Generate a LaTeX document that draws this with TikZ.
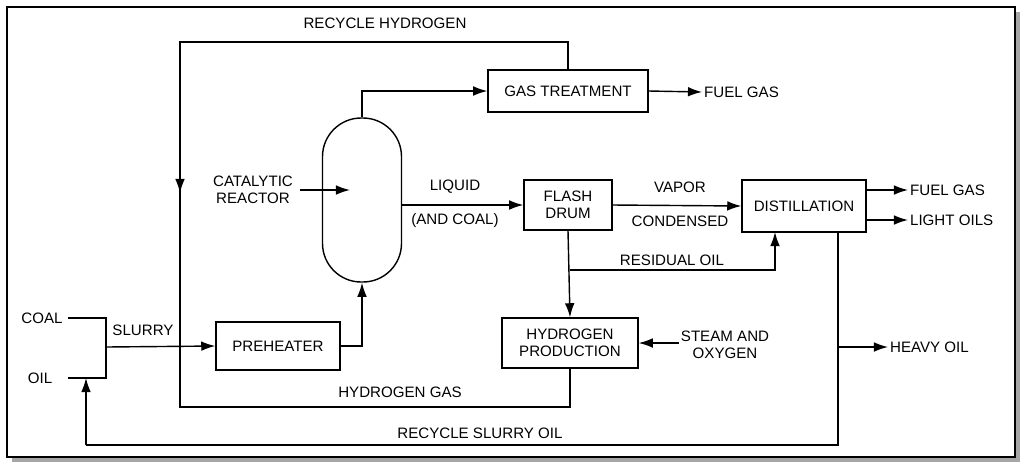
\documentclass[tikz,border=0pt]{standalone}
\usepackage{fontspec}
\setmainfont{Liberation Sans}
\usetikzlibrary{arrows.meta}
\begin{document}
\begin{tikzpicture}[x=0.02cm,y=-0.02cm,
        font=\fontsize{8.6}{10}\selectfont,
        unit/.style={draw,thick,inner sep=0pt,minimum width=#1*0.02cm},
        unit/.default=120,
        flow/.style={thick,-{Latex[length=8pt,width=5.5pt]}},
        pipe/.style={thick},
        txt/.style={inner sep=1pt,align=center}
    ]
    \useasboundingbox (0,0) rectangle (1024,468);
    \fill[gray!70] (12,12) rectangle (1020,462);
    \draw[very thick,fill=white] (7,7) rectangle (1015,457);
    % units
    \node[draw,thick,rounded corners=22pt,minimum width=79*0.02cm,minimum height=164*0.02cm] (reactor) at (362,200) {};
    \node[unit=160,minimum height=42*0.02cm] (gas) at (568,91) {GAS TREATMENT};
    \node[unit=88,minimum height=50*0.02cm,txt] (flash) at (568,205) {FLASH\\DRUM};
    \node[unit=124,minimum height=52*0.02cm] (dist) at (804,206) {DISTILLATION};
    \node[unit=124,minimum height=48*0.02cm] (pre) at (278,346) {PREHEATER};
    \node[unit=136,minimum height=50*0.02cm,txt] (hyd) at (570,343) {HYDROGEN\\PRODUCTION};
    % labels
    \node[txt] (lcoal) at (42,318) {COAL};
    \node[txt] (loil) at (40,378) {OIL};
    \node[txt] (lslurry) at (143,330) {SLURRY};
    \node[txt] (lcat) at (253,190) {CATALYTIC\\REACTOR};
    \node[txt] (lrh) at (385,23) {RECYCLE HYDROGEN};
    \node[txt,anchor=west] (lfg1) at (702,92) {FUEL GAS};
    \node[txt] (lliq) at (455,187) {LIQUID};
    \node[txt] (lcoal2) at (455,221) {(AND COAL)};
    \node[txt] (lvap) at (680,187) {VAPOR};
    \node[txt] (lcond) at (680,221) {CONDENSED};
    \node[txt,anchor=west] (lfg2) at (908,190) {FUEL GAS};
    \node[txt,anchor=west] (llo) at (908,220) {LIGHT OILS};
    \node[txt] (lres) at (672,260) {RESIDUAL OIL};
    \node[txt] (lsteam) at (725,345) {STEAM AND\\OXYGEN};
    \node[txt,anchor=west] (lheavy) at (888,347) {HEAVY OIL};
    \node[txt] (lhg) at (400,392) {HYDROGEN GAS};
    \node[txt] (lrso) at (480,433) {RECYCLE SLURRY OIL};
    % feed
    \coordinate (mix) at (106,347);
    \draw[pipe] (68,318) -- (106,318) -- (106,378) -- (68,378);
    \draw[flow] (mix) -- (pre.west);
    \draw[flow] (pre.east) -| (reactor.south);
    \draw[flow] (300,190) -- (350,190);
    \draw[flow] (reactor.north) |- (gas.west);
    \draw[flow] (gas.east) -- (lfg1.west);
    \draw[flow] (reactor.east |- flash.west) -- (flash.west);
    \draw[flow] (flash.east) -- (dist.west);
    \draw[flow] (dist.east |- lfg2) -- (lfg2.west);
    \draw[flow] (dist.east |- llo) -- (llo.west);
    \draw[flow] (flash.south) -- (hyd.north);
    \draw[flow] (570,270) -| (775,232);
    \draw[flow] (lsteam.west |- hyd.east) -- (hyd.east);
    % recycle hydrogen / hydrogen gas
    \draw[pipe] (gas.north) |- (180,42) -- (180,347);
    \draw[flow] (180,42) -- (180,193);
    \draw[pipe] (hyd.south) |- (180,407) -- (180,347);
    % heavy oil and recycle slurry
    \draw[pipe] (838,232) |- (86,445);
    \draw[flow] (86,445) -- (86,378);
    \draw[flow] (838,347) -- (lheavy.west);
\end{tikzpicture}
\end{document}
